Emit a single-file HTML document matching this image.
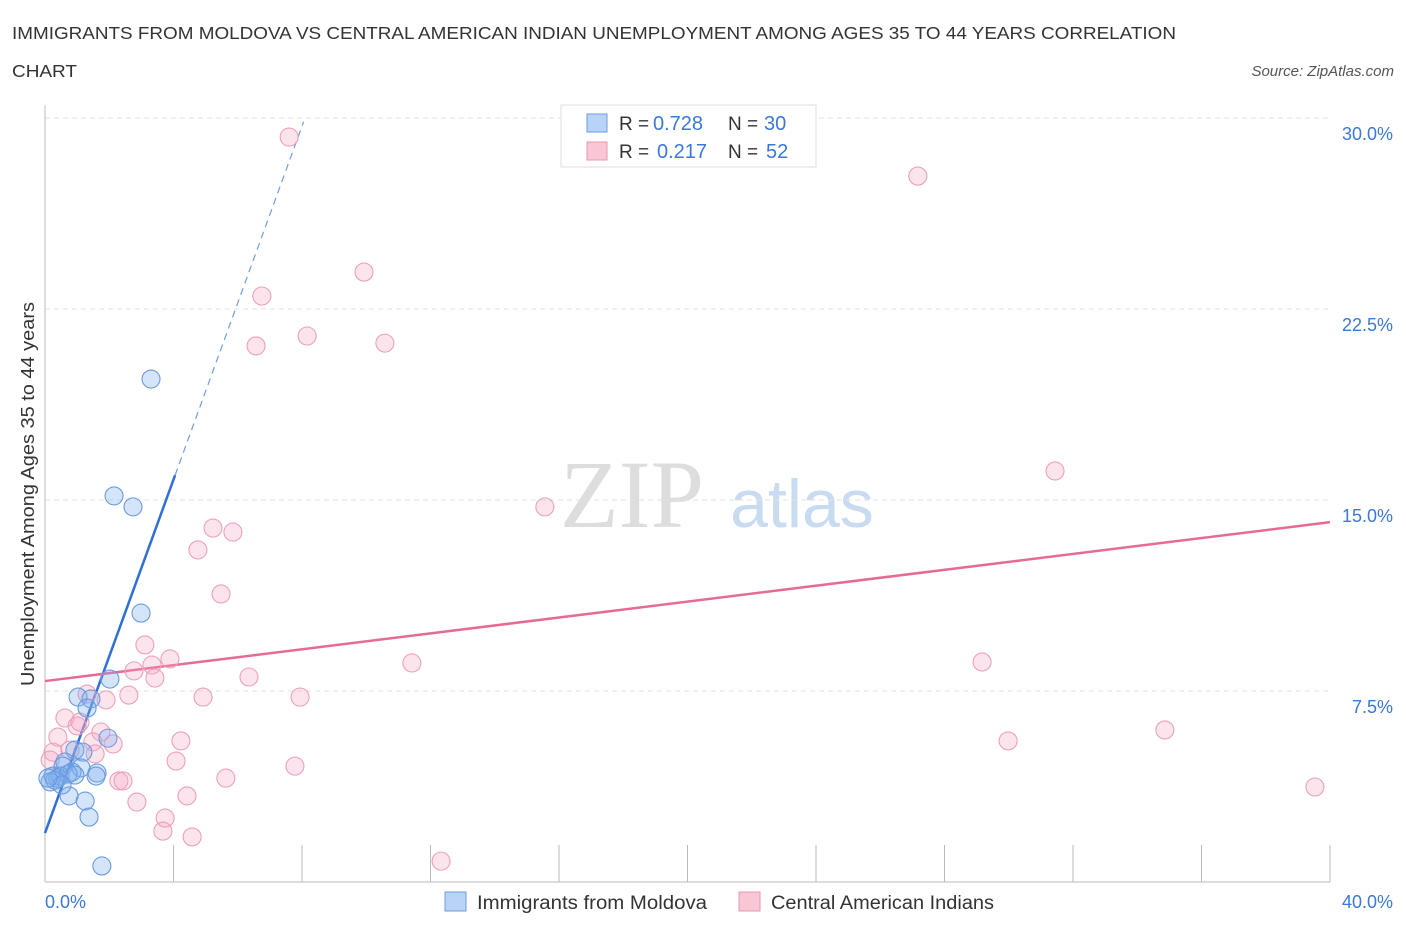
<!DOCTYPE html>
<html><head><meta charset="utf-8"><style>
body{margin:0;background:#fff;font-family:"Liberation Sans",sans-serif;}
svg{display:block}
</style></head><body>
<svg id="chart" width="1406" height="930">
<text x="12" y="39" font-size="17.5" fill="#333" textLength="1164" lengthAdjust="spacingAndGlyphs">IMMIGRANTS FROM MOLDOVA VS CENTRAL AMERICAN INDIAN UNEMPLOYMENT AMONG AGES 35 TO 44 YEARS CORRELATION</text>
<text x="12" y="77" font-size="17.5" fill="#333" textLength="65" lengthAdjust="spacingAndGlyphs">CHART</text>
<text x="1394" y="76" font-size="15" fill="#555" font-style="italic" text-anchor="end">Source: ZipAtlas.com</text>
<text x="632" y="527" font-size="96" fill="#ddd" font-family="Liberation Serif,serif" text-anchor="middle">ZIP</text>
<text x="802" y="527" font-size="68" fill="#c9dbf0" text-anchor="middle">atlas</text>
<g id="grid"></g>
<line x1="45" y1="105" x2="45" y2="882" stroke="#bbb"/>
<line x1="45" y1="882" x2="1330" y2="882" stroke="#bbb"/>
<g id="ticks"></g>
<text transform="translate(34,494) rotate(-90)" font-size="18" fill="#333" text-anchor="middle" textLength="384" lengthAdjust="spacingAndGlyphs">Unemployment Among Ages 35 to 44 years</text>
<text x="45" y="908" font-size="18" fill="#3b78d8">0.0%</text>
<text x="1393" y="908" font-size="18" fill="#3b78d8" text-anchor="end">40.0%</text>
<g id="lines"></g>
<g id="points"></g>
<g>
<rect x="561" y="105" width="255" height="62" fill="#fff" stroke="#ddd"/>
<rect x="587" y="114" width="20" height="18" fill="#b8d3f5" stroke="#6a9ee0"/>
<rect x="587" y="142" width="20" height="18" fill="#f9c6d6" stroke="#e996b2"/>
<text x="619" y="130" font-size="19" fill="#333">R =</text>
<text x="653" y="130" font-size="20" fill="#3b78d8">0.728</text>
<text x="728" y="130" font-size="19" fill="#333">N =</text>
<text x="764" y="130" font-size="20" fill="#3b78d8">30</text>
<text x="619" y="158" font-size="19" fill="#333">R =</text>
<text x="657" y="158" font-size="20" fill="#3b78d8">0.217</text>
<text x="728" y="158" font-size="19" fill="#333">N =</text>
<text x="766" y="158" font-size="20" fill="#3b78d8">52</text>
</g>
<g>
<rect x="445" y="892" width="21" height="19" fill="#b8d3f5" stroke="#6a9ee0"/>
<text x="477" y="909" font-size="19" fill="#333" textLength="230" lengthAdjust="spacingAndGlyphs">Immigrants from Moldova</text>
<rect x="739" y="892" width="21" height="19" fill="#f9c6d6" stroke="#e996b2"/>
<text x="771" y="909" font-size="19" fill="#333" textLength="223" lengthAdjust="spacingAndGlyphs">Central American Indians</text>
</g>
</svg>
<script>
const yTicks=[7.5,15,22.5,30];
const yTickLabels=["7.5%","15.0%","22.5%","30.0%"];
const xTicks=[4,8,12,16,20,24,28,32,36,40];
const blueX=[3.30,2.15,2.74,2.99,2.02,1.03,1.43,1.31,1.96,0.93,1.18,0.62,0.56,1.12,0.84,1.62,0.25,0.47,1.59,0.40,0.72,0.16,0.31,0.75,1.25,1.37,1.77,0.53,0.09,0.93];
const blueY=[19.75,15.16,14.73,10.56,7.97,7.26,7.19,6.83,5.65,5.18,5.10,4.71,4.55,4.48,4.32,4.28,4.16,4.16,4.16,4.08,4.24,3.93,4.00,3.38,3.18,2.55,0.63,3.81,4.08,4.20];
const pinkX=[7.60,27.17,9.93,6.75,8.16,6.57,10.58,31.44,15.56,5.23,5.85,4.76,5.48,3.11,3.89,3.33,2.77,3.42,6.35,11.42,29.17,7.94,4.92,2.61,1.31,1.90,0.62,1.09,1.00,1.74,34.86,1.49,2.12,4.23,29.98,0.40,0.78,1.56,0.25,4.08,7.78,5.63,2.30,2.43,0.16,4.42,2.86,39.53,3.74,3.67,4.58,12.33];
const pinkY=[29.25,27.72,23.95,23.01,21.44,21.05,21.16,16.14,14.73,13.90,13.74,13.04,11.31,9.31,8.76,8.52,8.29,8.01,8.05,8.60,8.64,7.26,7.26,7.34,7.38,7.15,6.44,6.28,6.13,5.89,5.97,5.50,5.42,5.54,5.54,5.69,5.18,5.03,5.10,4.75,4.55,4.08,3.97,3.97,4.79,3.38,3.14,3.73,2.51,2.00,1.77,0.82];
const blueLine=[1.92,3.47];
const pinkLine=[7.89,0.156];
const X=v=>45+v/40*1285, Y=v=>882-v/7.5*191;
const NS="http://www.w3.org/2000/svg";
function mk(tag,attrs,parent){const e=document.createElementNS(NS,tag);for(const k in attrs)e.setAttribute(k,attrs[k]);document.getElementById(parent).appendChild(e);return e;}
yTicks.forEach((t,i)=>{
 const l=mk('line',{x1:45,x2:1330,y1:Y(t),y2:Y(t),stroke:'#e2e2e2','stroke-dasharray':'5,4'},'grid');
 
 
 const tx=mk('text',{x:1393,y:Y(t)+22,'font-size':18,fill:'#3b78d8','text-anchor':'end'},'grid');
 tx.textContent=yTickLabels[i];
 
 
});
xTicks.forEach(t=>{
 const l=mk('line',{x1:X(t),x2:X(t),y1:845,y2:882,stroke:'#bbb'},'ticks');
 
 
});
const bx1=4.05,bx2=8.05;
let l1=mk('line',{x1:X(0),y1:Y(blueLine[0]),x2:X(bx1),y2:Y(blueLine[0]+blueLine[1]*bx1),stroke:'#2f6fd6','stroke-width':2.5},'lines');


let l2=mk('line',{x1:X(bx1),y1:Y(blueLine[0]+blueLine[1]*bx1),x2:X(bx2),y2:Y(blueLine[0]+blueLine[1]*bx2),stroke:'#6f9de0','stroke-width':1.2,'stroke-dasharray':'7,5'},'lines');


let l3=mk('line',{x1:X(0),y1:Y(pinkLine[0]),x2:X(40),y2:Y(pinkLine[0]+pinkLine[1]*40),stroke:'#e56b95','stroke-width':2.5},'lines');


pinkX.forEach((x,i)=>{
 const c=mk('circle',{cx:X(x),cy:Y(pinkY[i]),r:9,fill:'rgba(245,165,195,0.3)',stroke:'#eca0ba','stroke-width':1.1},'points');
 
 
});
blueX.forEach((x,i)=>{
 const c=mk('circle',{cx:X(x),cy:Y(blueY[i]),r:9,fill:'rgba(125,175,235,0.32)',stroke:'#6a9ade','stroke-width':1.1},'points');
 
 
});
</script>
</body></html>
